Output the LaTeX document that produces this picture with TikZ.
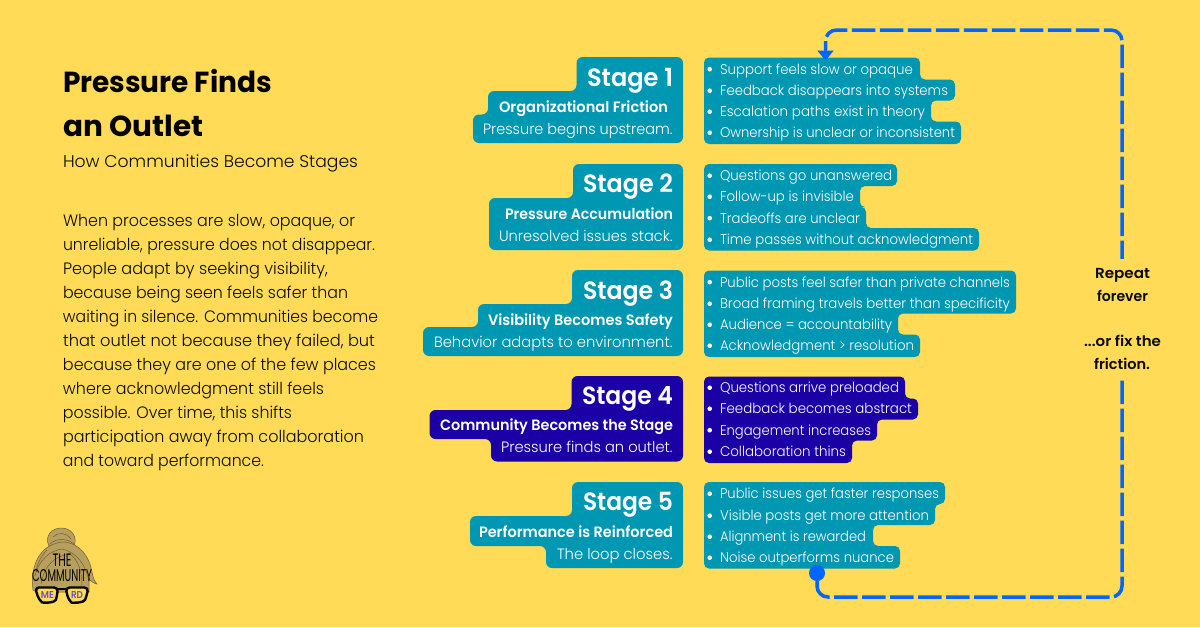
\documentclass[tikz,border=0pt]{standalone}
\usepackage{fontspec}
\usepackage{graphicx}
\usetikzlibrary{arrows.meta}
\setmainfont{Poppins}
\newfontfamily\lightf{Poppins Light}
\newfontfamily\semif{Poppins SemiBold}
\newfontfamily\boldf{Poppins}[UprightFont=* Bold]
\definecolor{bgy}{HTML}{FFDB58}
\definecolor{teal}{HTML}{0097B2}
\definecolor{deep}{HTML}{1B00A6}
\definecolor{loopblue}{HTML}{0066FF}
\definecolor{ink}{HTML}{0A0A0A}
\definecolor{hair}{HTML}{B79F5E}
\definecolor{hairline}{HTML}{6E5F38}
\definecolor{lens}{HTML}{6F52C0}
\newsavebox\fitbox
\newcommand\fitw[2]{\sbox\fitbox{#2}\pgfmathsetmacro\fitr{(#1)/(\wd\fitbox/1pt)}\scalebox{\fitr}[1]{\usebox\fitbox}}
% name, style, x, baseline, width, text
\newcommand\lt[6]{\node[txt,#2,anchor=base west] (#1) at (#3,#4) {\fitw{#5}{#6}};}
\newcommand\rt[6]{\node[txt,#2,anchor=base east] (#1) at (#3,#4) {\fitw{#5}{#6}};}
\newcommand\ct[6]{\node[txt,#2,anchor=base] (#1) at (#3,#4) {\fitw{#5}{#6}};}
% list row: name, baseline, end x, text
\newcommand\li[4]{\node[dotmark] (#1b) at (709.7,#2-4.8) {};\lt{#1}{listtxt}{720}{#2}{#3-720}{#4}}
% list backdrop: colour, top, four right edges
\newcommand\listbox[6]{\fill[#1,rounded corners=5] (704,#2) -- (#3,#2) -- (#3,#2+22) -- (#4,#2+22) -- (#4,#2+43) -- (#5,#2+43) -- (#5,#2+64) -- (#6,#2+64) -- (#6,#2+86.5) -- (704,#2+86.5) -- cycle;}
\tikzset{
 txt/.style={inner sep=0pt,outer sep=0pt,font=\lightf,text=ink},
 title/.style={font=\boldf\fontsize{29}{29}\selectfont,text=black},
 subt/.style={font=\lightf\fontsize{17}{17}\selectfont},
 body/.style={font=\lightf\fontsize{16.5}{17}\selectfont},
 stagetxt/.style={font=\semif\fontsize{25}{25}\selectfont,text=white},
 midtxt/.style={font=\semif\fontsize{15}{15}\selectfont,text=white},
 lowtxt/.style={font=\lightf\fontsize{15}{15}\selectfont,text=white},
 listtxt/.style={font=\lightf\fontsize{14}{14}\selectfont,text=white},
 looptxt/.style={font=\semif\fontsize{14.5}{15}\selectfont},
 dotmark/.style={circle,fill=white,inner sep=0pt,minimum size=4.6pt},
 looppath/.style={draw=loopblue,line width=3.5pt,rounded corners=11,dash pattern=on 23.5pt off 4.5pt},
 gap/.style={fill=bgy,minimum width=90pt,minimum height=119pt,inner sep=0pt},
 strand/.style={draw=hairline,line width=.5pt},
 rim/.style={draw=black,line width=2.4pt,fill=bgy,rounded corners=4},
}
\begin{document}
\begin{tikzpicture}[x=1pt,y=-1pt]
\fill[bgy] (0,0) rectangle (1200,627);
\useasboundingbox (0,0) rectangle (1200,627);

% left column
\lt{t1}{title}{63}{92}{209}{Pressure Finds}
\lt{t2}{title}{63.5}{136}{140}{an Outlet}
\lt{st}{subt}{63}{167}{295}{How Communities Become Stages}
\lt{b1}{body}{63}{226}{292}{When processes are slow, opaque, or}
\lt{b2}{body}{63}{250}{312}{unreliable, pressure does not disappear.}
\lt{b3}{body}{63}{274}{265}{People adapt by seeking visibility,}
\lt{b4}{body}{63}{298}{285}{because being seen feels safer than}
\lt{b5}{body}{63}{322}{315}{waiting in silence. Communities become}
\lt{b6}{body}{63}{346}{312}{that outlet not because they failed, but}
\lt{b7}{body}{63}{370}{313}{because they are one of the few places}
\lt{b8}{body}{63}{394}{261}{where acknowledgment still feels}
\lt{b9}{body}{63}{418}{229}{possible. Over time, this shifts}
\lt{b10}{body}{63}{442}{301}{participation away from collaboration}
\lt{b11}{body}{63}{466}{201}{and toward performance.}

% stage tabs
\fill[teal,rounded corners=6] (576.5,57) -- (683,57) -- (683,143) -- (473,143) -- (473,114.5) -- (488,114.5) -- (488,91) -- (576.5,91) -- cycle;
\fill[teal,rounded corners=6] (573,164) -- (683,164) -- (683,250) -- (489,250) -- (489,198) -- (573,198) -- cycle;
\fill[teal,rounded corners=6] (572,270) -- (683,270) -- (683,356) -- (423,356) -- (423,327) -- (478,327) -- (478,304) -- (572,304) -- cycle;
\fill[deep,rounded corners=6] (571.5,376) -- (683,376) -- (683,461.5) -- (491,461.5) -- (491,439) -- (429.5,439) -- (429.5,410) -- (571.5,410) -- cycle;
\fill[teal,rounded corners=6] (572,482) -- (683,482) -- (683,568) -- (546,568) -- (546,546) -- (470,546) -- (470,516) -- (572,516) -- cycle;

\rt{s1}{stagetxt}{673}{86}{86}{Stage 1}
\rt{s1m}{midtxt}{668}{112}{169}{Organizational Friction}
\rt{s1l}{lowtxt}{672.5}{134}{189.5}{Pressure begins upstream.}
\rt{s2}{stagetxt}{673}{192.5}{90}{Stage 2}
\rt{s2m}{midtxt}{673}{219}{168}{Pressure Accumulation}
\rt{s2l}{lowtxt}{672.5}{241}{173.5}{Unresolved issues stack.}
\rt{s3}{stagetxt}{673}{299.5}{90}{Stage 3}
\rt{s3m}{midtxt}{673}{325}{185}{Visibility Becomes Safety}
\rt{s3l}{lowtxt}{672.5}{347}{238.5}{Behavior adapts to environment.}
\rt{s4}{stagetxt}{673}{404.5}{91}{Stage 4}
\rt{s4m}{midtxt}{673}{430}{233}{Community Becomes the Stage}
\rt{s4l}{lowtxt}{672.5}{452.5}{171.5}{Pressure finds an outlet.}
\rt{s5}{stagetxt}{673}{510.5}{90}{Stage 5}
\rt{s5m}{midtxt}{673}{537}{194}{Performance is Reinforced}
\rt{s5l}{lowtxt}{672.5}{559}{115.5}{The loop closes.}

% list backdrops
\listbox{teal}{57.5}{920}{955}{931}{961}
\listbox{teal}{164}{897}{860}{866}{979}
\fill[teal,rounded corners=5] (704,270.5) -- (1016,270.5) -- (1016,313.5) -- (898,313.5) -- (898,334.5) -- (920,334.5) -- (920,357) -- (704,357) -- cycle;
\listbox{deep}{376.5}{905}{918}{877}{852}
\listbox{teal}{482}{945}{935}{873}{900}

\li{a1}{74}{913}{Support feels slow or opaque}
\li{a2}{95.5}{948}{Feedback disappears into systems}
\li{a3}{116.5}{925}{Escalation paths exist in theory}
\li{a4}{137.5}{955}{Ownership is unclear or inconsistent}
\li{c1}{180.5}{892}{Questions go unanswered}
\li{c2}{201.5}{854}{Follow-up is invisible}
\li{c3}{223}{860}{Tradeoffs are unclear}
\li{c4}{244.5}{973}{Time passes without acknowledgment}
\li{d1}{287}{1010}{Public posts feel safer than private channels}
\li{d2}{308.5}{1010}{Broad framing travels better than specificity}
\li{d3}{329.5}{892}{Audience = accountability}
\li{d4}{350.5}{914}{Acknowledgment > resolution}
\li{e1}{392.5}{899}{Questions arrive preloaded}
\li{e2}{413.5}{912}{Feedback becomes abstract}
\li{e3}{435}{871}{Engagement increases}
\li{e4}{456.5}{846}{Collaboration thins}
\li{f1}{498.5}{939}{Public issues get faster responses}
\li{f2}{520.5}{929}{Visible posts get more attention}
\li{f3}{541.5}{866}{Alignment is rewarded}
\li{f4}{562.5}{894}{Noise outperforms nuance}

% feedback loop
\node[circle,fill=loopblue,inner sep=0pt,minimum size=16pt] (loopstart) at (817,573) {};
\coordinate (loopend) at (825.5,60.5);
\coordinate (c1) at (817,597);
\coordinate (c2) at (1122,597);
\coordinate (c3) at (1122,30);
\coordinate (c4) at (825.5,30);
\draw[looppath] (loopstart.south) -- (c1) -- (c2) -- (c3) -- (c4) -- (c4 |- 0,50);
\draw[draw=loopblue,fill=loopblue,line width=3.5pt,-{Triangle[width=16pt,length=10pt,color=loopblue]}] (c4 |- 0,42) -- (loopend);
\node[gap] (repeatgap) at (1122,318) {};
\ct{r1}{looptxt}{1122.5}{278}{55}{Repeat}
\ct{r2}{looptxt}{1122.5}{301}{51}{forever}
\ct{r3}{looptxt}{1122.5}{346}{77}{...or fix the}
\ct{r4}{looptxt}{1122}{369}{56}{friction.}

% logo
\fill[hair,draw=hairline,line width=.5pt] (49,546) .. controls (44,536) and (52,528) .. (61,528) .. controls (71,528) and (78,536) .. (74,546) -- cycle;
\draw[strand] (53,537) .. controls (58,532) and (66,532) .. (71,539);
\draw[strand] (50,544) .. controls (56,538) and (67,538) .. (74,544);
\fill[hair,draw=hairline,line width=.5pt] (33,590) .. controls (30,568) and (38,545) .. (62,542) .. controls (80,542) and (90,558) .. (92,572) .. controls (93,578) and (95,582) .. (97,584) .. controls (93,583) and (90,581) .. (89,578) -- (89,592) -- (37,592) -- cycle;
\draw[strand] (35,576) .. controls (39,560) and (49,551) .. (62,549);
\draw[strand] (41,584) .. controls (44,566) and (54,556) .. (70,554);
\draw[strand] (62,549) .. controls (76,552) and (86,564) .. (89,582);
\draw[strand] (70,554) .. controls (78,560) and (82,570) .. (82,586);
\draw[strand] (47,550) .. controls (41,556) and (37,564) .. (36,572);
\node[txt,text=black,font=\fontsize{18}{18}\selectfont,anchor=base] (lgt) at (62,566.5) {\fitw{19}{THE}};
\node[txt,text=black,font=\fontsize{17}{17}\selectfont,anchor=base] (lgc) at (62,581.5) {\fitw{60}{COMMUNITY}};
\draw[rim] (35,587.5) -- (58,587.5) -- (57,596) .. controls (55,603) and (43,603) .. (39,600) -- cycle;
\draw[rim] (65.5,587.5) -- (88.5,587.5) -- (86.5,596) .. controls (84,603) and (72,603) .. (68.5,600) -- cycle;
\draw[black,line width=2.4pt] (58,589) -- (65.5,589);
\node[txt,text=lens,font=\semif\fontsize{10}{10}\selectfont,anchor=base] (lgm) at (47.5,598.5) {\fitw{13}{ME}};
\node[txt,text=lens,font=\semif\fontsize{10}{10}\selectfont,anchor=base] (lgr) at (77,598.5) {\fitw{12}{RD}};
\end{tikzpicture}
\end{document}
